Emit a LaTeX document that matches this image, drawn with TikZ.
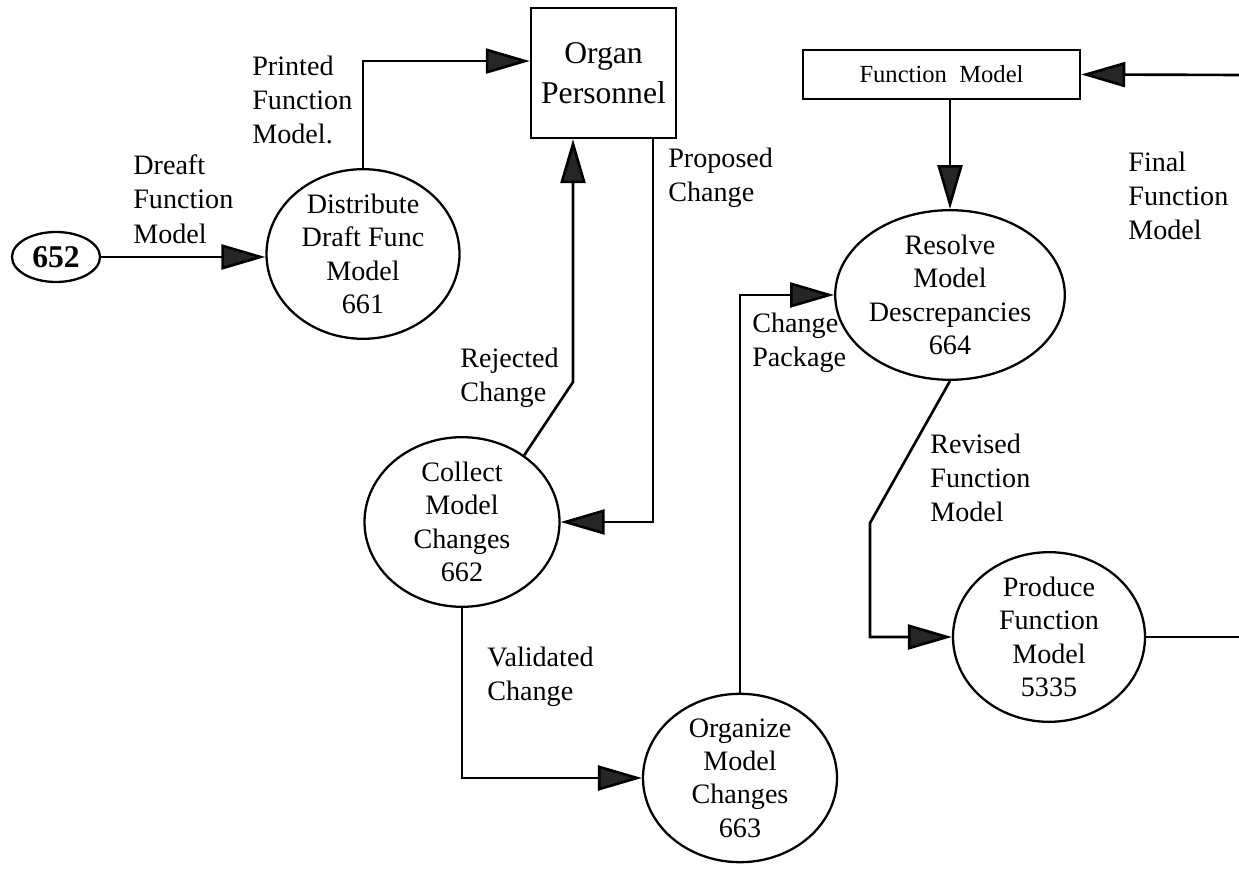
\documentclass[tikz,border=0pt]{standalone}
\usepackage{fontspec}
\setmainfont{Liberation Serif}
\usetikzlibrary{shapes.geometric,arrows.meta,calc}

\begin{document}
\begin{tikzpicture}[
    proc/.style={draw, ellipse, line width=1.3pt, inner sep=0pt, align=center,
        font=\fontsize{16}{19}\selectfont},
    store/.style={draw, rectangle, line width=1.4pt, inner sep=0pt, align=center},
    lbl/.style={anchor=west, align=left, inner sep=0pt,
        font=\fontsize{16}{19.5}\selectfont},
    flow/.style={line width=1.5pt,
        -{Triangle[length=0.88cm,width=0.5cm,fill=black!85]}}
]
    \useasboundingbox (0,0) rectangle (24.78,17.82);

    % Sources and stores
    \node[draw, ellipse, line width=1.3pt, inner sep=0pt, minimum width=1.76cm,
        minimum height=1cm, font=\fontsize{18}{20}\selectfont\bfseries]
        (n652) at (1.12,12.68) {652};
    \node[store, minimum width=2.9cm, minimum height=2.6cm,
        font=\fontsize{18}{22.7}\selectfont] (organ) at (12.07,16.36) {Organ\\Personnel};
    \node[store, minimum width=5.54cm, minimum height=0.98cm,
        font=\fontsize{14}{17}\selectfont] (fmodel) at (18.83,16.33) {Function~~Model};

    % Processes
    \node[proc, minimum width=3.86cm, minimum height=3.36cm] (dist) at (7.26,12.74)
        {Distribute\\Draft Func\\Model\\661};
    \node[proc, minimum width=3.9cm, minimum height=3cm] (collect) at (9.24,7.38)
        {Collect\\Model\\Changes\\662};
    \node[proc, minimum width=3.88cm, minimum height=3.1cm] (organize) at (14.8,2.26)
        {Organize\\Model\\Changes\\663};
    \node[proc, minimum width=3.88cm, minimum height=3.14cm] (resolve) at (19.0,11.92)
        {Resolve\\Model\\Descrepancies\\664};
    \node[proc, minimum width=3.84cm, minimum height=3.22cm] (produce) at (20.98,5.08)
        {Produce\\Function\\Model\\5335};

    % Flows
    \draw[flow] (n652.east) -- (n652.east -| dist.west);
    \draw[flow] (dist.north) |- ($(organ.north west)!0.41!(organ.south west)$);
    \coordinate (rejbend) at (11.46,10.18);
    \draw[flow] (collect.47) -- (rejbend) -- (rejbend |- organ.south);
    \draw[flow] ([xshift=0.99cm]organ.south) |- (collect.east);
    \draw[flow] (collect.south) |- (organize.west);
    \draw[flow] (organize.north) |- (resolve.west);
    \draw[flow] (fmodel.south -| resolve.north) -- (resolve.north);
    \coordinate (fmin) at (24.78,16.32);
    \draw[flow] (fmin) -- (fmodel.east);
    \coordinate (revbend) at (17.40,7.36);
    \draw[flow] (resolve.south) -- (revbend) |- (produce.west);
    \coordinate (prodout) at (24.78,5.08);
    \draw[line width=1.5pt] (produce.east) -- (prodout);

    % Flow labels
    \node[lbl] (lbldraft) at (2.66,13.84) {Dreaft\\Function\\Model};
    \node[lbl] (lblprint) at (5.04,15.82) {Printed\\Function\\Model.};
    \node[lbl] (lblprop) at (13.36,14.26) {Proposed\\Change};
    \node[lbl] (lblrej) at (9.2,10.26) {Rejected\\Change};
    \node[lbl] (lblpack) at (15.04,10.96) {Change\\Package};
    \node[lbl] (lblvalid) at (9.74,4.28) {Validated\\Change};
    \node[lbl] (lblfinal) at (22.56,13.9) {Final\\Function\\Model};
    \node[lbl] (lblrev) at (18.6,8.26) {Revised\\Function\\Model};
\end{tikzpicture}
\end{document}
